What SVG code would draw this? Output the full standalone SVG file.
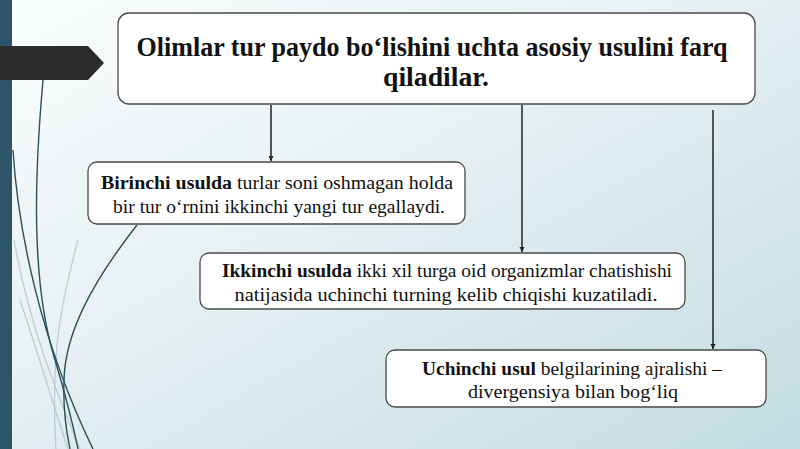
<svg xmlns="http://www.w3.org/2000/svg" width="800" height="449" viewBox="0 0 800 449">
<defs>
<linearGradient id="bg" x1="0" y1="0" x2="1" y2="1">
<stop offset="0" stop-color="#fbfdfd"/>
<stop offset="0.45" stop-color="#e6f0f3"/>
<stop offset="1" stop-color="#c3dce1"/>
</linearGradient>
<marker id="tip" markerWidth="6" markerHeight="6" refX="5" refY="3" orient="auto" markerUnits="userSpaceOnUse">
<path d="M0,0.5 L5,3 L0,5.5 Z" fill="#222"/>
</marker>
<style>
.box{fill:#fff;stroke:#4a4a4a;stroke-width:1.3}
.t{font-family:"Liberation Serif","Times New Roman",serif;fill:#111;text-anchor:middle}
.b{font-weight:bold}
.con{stroke:#222;stroke-width:1.5;fill:none;marker-end:url(#tip)}
.deco{fill:none;stroke:#2a4e5c;stroke-width:1.4}
.faint{fill:none;stroke:#a9c3cb;stroke-width:1.2;opacity:0.8}
</style>
</defs>
<rect width="800" height="449" fill="url(#bg)"/>
<g id="decoration">
<path class="faint" d="M14,240 C30,330 60,400 80,449"/>
<path class="faint" d="M78,240 C62,300 50,350 56,449"/>
<path class="faint" d="M20,300 C40,360 55,410 68,449"/>
<path class="deco" d="M13,150 C18,230 40,340 93,449"/>
<path class="deco" d="M43,80 C35,170 30,280 55,360 C64,390 72,420 78,449"/>
<path class="deco" d="M137,225 C90,285 65,335 64,380 C63,405 66,430 70,449"/>
<rect x="0" y="0" width="12" height="449" fill="#2d5468"/>
<path d="M0,46 L88,46 L104,63 L88,80 L0,80 Z" fill="#2b2b2b"/>
</g>
<g id="connectors">
<line class="con" x1="271" y1="105" x2="271" y2="161"/>
<line class="con" x1="522" y1="105" x2="522" y2="252"/>
<line class="con" x1="713" y1="110" x2="713" y2="349"/>
</g>
<g id="title">
<rect class="box" x="118" y="13" width="637" height="91" rx="11"/>
<text class="t b" x="432" y="56" font-size="27" textLength="591" lengthAdjust="spacingAndGlyphs">Olimlar tur paydo bo‘lishini uchta asosiy usulini farq</text>
<text class="t b" x="436" y="86" font-size="27" textLength="106" lengthAdjust="spacingAndGlyphs">qiladilar.</text>
</g>
<g id="node1">
<rect class="box" x="88" y="162" width="377" height="62" rx="9"/>
<text class="t" x="277" y="189" font-size="18" textLength="352" lengthAdjust="spacingAndGlyphs"><tspan class="b">Birinchi usulda</tspan> turlar soni oshmagan holda</text>
<text class="t" x="279" y="213" font-size="18" textLength="332" lengthAdjust="spacingAndGlyphs">bir tur o‘rnini ikkinchi yangi tur egallaydi.</text>
</g>
<g id="node2">
<rect class="box" x="200" y="253" width="485" height="56" rx="9"/>
<text class="t" x="447" y="277" font-size="18" textLength="450" lengthAdjust="spacingAndGlyphs"><tspan class="b">Ikkinchi usulda</tspan> ikki xil turga oid organizmlar chatishishi</text>
<text class="t" x="446" y="301" font-size="18" textLength="423" lengthAdjust="spacingAndGlyphs">natijasida uchinchi turning kelib chiqishi kuzatiladi.</text>
</g>
<g id="node3">
<rect class="box" x="386" y="350" width="380" height="57" rx="9"/>
<text class="t" x="572" y="375" font-size="19" textLength="300" lengthAdjust="spacingAndGlyphs"><tspan class="b">Uchinchi usul</tspan> belgilarining ajralishi –</text>
<text class="t" x="573" y="398" font-size="19" textLength="210" lengthAdjust="spacingAndGlyphs">divergensiya bilan bog‘liq</text>
</g>
</svg>
